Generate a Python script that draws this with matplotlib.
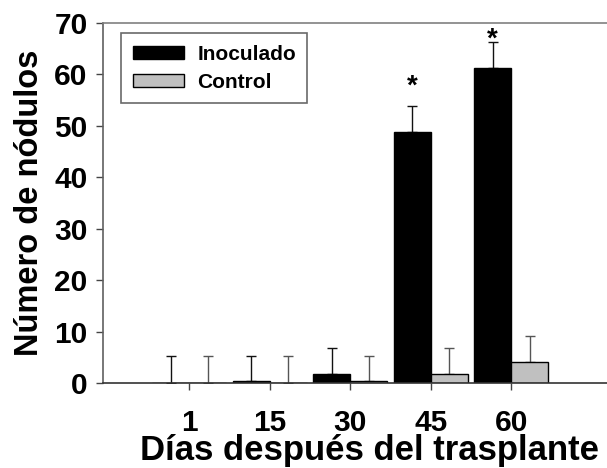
import matplotlib
matplotlib.use("Agg")
import matplotlib.pyplot as plt
import numpy as np

plt.rcParams['font.family'] = ['Liberation Sans', 'DejaVu Sans']
plt.rcParams['font.weight'] = 'bold'

dias = ['1', '15', '30', '45', '60']
inoculado = [0.0, 0.3, 1.8, 48.8, 61.2]
inoculado_err = [5.2, 5.0, 5.1, 5.1, 5.1]
control = [0.0, 0.0, 0.3, 1.8, 4.1]
control_err = [5.2, 5.2, 5.0, 5.1, 5.1]
asteriscos = {3: 57.6, 4: 66.8}

fig = plt.figure(figsize=(6.07, 4.68), dpi=100)
ax = fig.add_axes([103/607, (468-383)/468, 1 - 103/607, (383-23)/468])

x = np.arange(len(dias))
w = 0.46
off = 0.23
ax.bar(x - off, inoculado, w, color='black', edgecolor='black', linewidth=1, label='Inoculado', zorder=2)
ax.bar(x + off, control, w, color='#c0c0c0', edgecolor='black', linewidth=1, label='Control', zorder=2)
ax.errorbar(x - off, inoculado, yerr=[np.zeros(len(dias)), inoculado_err], fmt='none',
            ecolor='#111111', elinewidth=1, capsize=3.6, capthick=1, zorder=1)
ax.errorbar(x + off, control, yerr=[np.zeros(len(dias)), control_err], fmt='none',
            ecolor='#555555', elinewidth=1, capsize=3.6, capthick=1, zorder=1)

for i, yv in asteriscos.items():
    ax.text(x[i] - off, yv, '*', ha='center', va='center', fontsize=20, fontweight='bold')

ax.set_xlim(-1.07, 5.19)
ax.set_ylim(0, 70)
ax.set_yticks(range(0, 71, 10))
ax.set_xticks(x)
ax.set_xticklabels(dias)
ax.tick_params(axis='y', direction='out', length=5, width=1, pad=6, labelsize=21.5, colors='#444444', labelcolor='black')
ax.tick_params(axis='x', direction='out', length=5, width=1, pad=14, labelsize=21.5, colors='#444444', labelcolor='black')
for lab in ax.get_xticklabels() + ax.get_yticklabels():
    lab.set_fontweight('bold')

ax.spines['right'].set_visible(False)
ax.spines['top'].set_color('#808080')
ax.spines['left'].set_color('#606060')
ax.spines['bottom'].set_color('#333333')
for s in ax.spines.values():
    s.set_linewidth(1.2)

ax.set_ylabel('Número de nódulos', fontsize=23.5, fontweight='bold', labelpad=7)
ax.set_xlabel('Días después del trasplante', fontsize=25, fontweight='bold')
ax.xaxis.set_label_coords(0.528, -0.142)
ax.xaxis.label.set_va('top')

leg = ax.legend(loc='upper left', bbox_to_anchor=(0.036, 0.972), frameon=True, fancybox=False,
                prop={'size': 15, 'weight': 'bold'}, handlelength=2.45, handleheight=0.58,
                borderpad=0.55, labelspacing=0.45, handletextpad=0.65, borderaxespad=0)
leg.get_frame().set_edgecolor('#444444')
leg.get_frame().set_linewidth(1.2)

fig.savefig('out.png', dpi=100)
